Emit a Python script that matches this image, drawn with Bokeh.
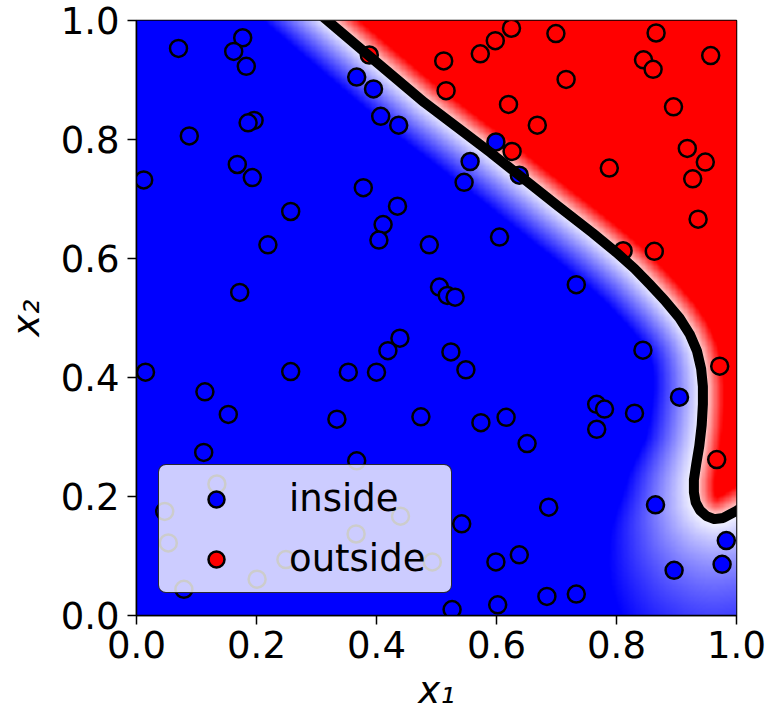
import numpy as np
from bokeh.plotting import figure
from bokeh.models import Range1d, LinearColorMapper, FixedTicker, Legend, LegendItem
from bokeh.embed import file_html
from bokeh.resources import INLINE

# ---- data ----
inside_x = [0.070, 0.177, 0.162, 0.183, 0.367, 0.395, 0.407, 0.437, 0.196, 0.186, 0.088, 0.012,
            0.168, 0.193, 0.378, 0.435, 0.257, 0.599, 0.556, 0.546, 0.638, 0.605, 0.488, 0.733,
            0.505, 0.518, 0.531, 0.524, 0.549, 0.844, 0.905, 0.767, 0.780, 0.830, 0.616, 0.574,
            0.411, 0.404, 0.219, 0.172, 0.439, 0.419, 0.015, 0.257, 0.353, 0.400, 0.114, 0.153,
            0.334, 0.474, 0.112, 0.367, 0.134, 0.047, 0.053, 0.079, 0.201, 0.249, 0.366, 0.440,
            0.493, 0.767, 0.651, 0.865, 0.687, 0.542, 0.983, 0.976, 0.896, 0.599, 0.638, 0.684,
            0.733, 0.602, 0.526]
inside_y = [0.953, 0.971, 0.948, 0.923, 0.905, 0.885, 0.839, 0.824, 0.832, 0.828, 0.806, 0.732,
            0.758, 0.736, 0.719, 0.688, 0.679, 0.796, 0.763, 0.728, 0.740, 0.636, 0.623, 0.556,
            0.552, 0.538, 0.535, 0.443, 0.413, 0.446, 0.367, 0.355, 0.347, 0.340, 0.333, 0.324,
            0.657, 0.631, 0.623, 0.543, 0.466, 0.445, 0.409, 0.410, 0.409, 0.409, 0.376, 0.338,
            0.330, 0.334, 0.274, 0.260, 0.221, 0.175, 0.122, 0.044, 0.061, 0.094, 0.137, 0.167,
            0.090, 0.313, 0.289, 0.186, 0.182, 0.154, 0.126, 0.086, 0.076, 0.090, 0.102, 0.032,
            0.036, 0.018, 0.010]
outside_x = [0.388, 0.625, 0.699, 0.866, 0.598, 0.573, 0.512, 0.957, 0.845, 0.861, 0.716, 0.516,
             0.620, 0.895, 0.668, 0.918, 0.948, 0.927, 0.788, 0.626, 0.936, 0.811, 0.863, 0.972,
             0.967]
outside_y = [0.942, 0.987, 0.978, 0.979, 0.966, 0.944, 0.932, 0.941, 0.934, 0.918, 0.901, 0.882,
             0.859, 0.855, 0.824, 0.785, 0.762, 0.734, 0.752, 0.780, 0.666, 0.613, 0.612, 0.419,
             0.262]

# decision boundary (probability 0.5 contour)
boundary_x = [0.26, 0.318, 0.40, 0.48, 0.59, 0.70, 0.76, 0.80, 0.83, 0.855, 0.88, 0.905, 0.922,
              0.934, 0.941, 0.944, 0.944, 0.942, 0.938, 0.933, 0.929, 0.929, 0.932, 0.939, 0.950,
              0.963, 0.978, 1.0, 1.05]
boundary_y = [1.05, 1.0, 0.93, 0.862, 0.778, 0.69, 0.643, 0.61, 0.583, 0.557, 0.53, 0.50, 0.473,
              0.445, 0.415, 0.385, 0.355, 0.32, 0.285, 0.255, 0.228, 0.207, 0.19, 0.177, 0.167,
              0.162, 0.164, 0.176, 0.21]

# how quickly the predicted probability saturates away from the boundary
blue_width_y = [0.0, 0.1, 0.2, 0.3, 0.45, 1.0]
blue_width = [0.22, 0.17, 0.12, 0.09, 0.075, 0.07]
red_width = 0.035

tick_values = [0.0, 0.2, 0.4, 0.6, 0.8, 1.0]
tick_labels = ["0.0", "0.2", "0.4", "0.6", "0.8", "1.0"]

# ---- probability field derived from the boundary ----
N = 500
g = (np.arange(N) + 0.5) / N
X, Y = np.meshgrid(g, g)
bx = np.array(boundary_x)
by = np.array(boundary_y)
dist = np.full(X.shape, np.inf)
for i in range(len(bx) - 1):
    ax_, ay_ = bx[i], by[i]
    vx, vy = bx[i + 1] - ax_, by[i + 1] - ay_
    t = np.clip(((X - ax_) * vx + (Y - ay_) * vy) / (vx * vx + vy * vy), 0, 1)
    dist = np.minimum(dist, np.hypot(X - ax_ - t * vx, Y - ay_ - t * vy))

px = list(boundary_x) + [1.05]
py = list(boundary_y) + [1.05]
red = np.zeros(X.shape, bool)
j = len(px) - 1
for i in range(len(px)):
    xi, yi, xj, yj = px[i], py[i], px[j], py[j]
    cond = ((yi > Y) != (yj > Y)) & (X < (xj - xi) * (Y - yi) / (yj - yi + 1e-12) + xi)
    red ^= cond
    j = i

wb = np.interp(Y, blue_width_y, blue_width)
prob = np.where(red, 0.5 + 0.5 * np.clip(dist / red_width, 0, 1),
                0.5 - 0.5 * np.clip(dist / wb, 0, 1)).astype(np.float32)

bwr = []
for i in range(256):
    t = i / 255
    if t < 0.5:
        r = gg = 2 * t
        b = 1.0
    else:
        r = 1.0
        gg = b = 2 * (1 - t)
    bwr.append("#%02x%02x%02x" % (round(r * 255), round(gg * 255), round(b * 255)))

# ---- figure ----
p = figure(width=769, height=719, x_range=Range1d(0, 1), y_range=Range1d(0, 1),
           output_backend="svg", toolbar_location=None,
           min_border_left=136, min_border_right=33, min_border_top=20, min_border_bottom=104)
p.background_fill_color = "white"
p.border_fill_color = "white"

mapper = LinearColorMapper(palette=bwr, low=0, high=1)
p.image(image=[prob], x=0, y=0, dw=1, dh=1, color_mapper=mapper)

r_in = p.scatter(inside_x, inside_y, size=17, fill_color="blue", line_color="black", line_width=2.5)
r_out = p.scatter(outside_x, outside_y, size=17, fill_color="red", line_color="black", line_width=2.5)

p.line(boundary_x, boundary_y, line_color="black", line_width=10, line_join="round", line_cap="round")

legend = Legend(items=[LegendItem(label="inside", renderers=[r_in]),
                       LegendItem(label="outside", renderers=[r_out])],
                location=(22, 22))
legend.label_text_font = "DejaVu Sans"
legend.label_text_font_size = "37px"
legend.label_text_color = "black"
legend.padding = 12
legend.spacing = 17
legend.glyph_width = 90
legend.glyph_height = 40
legend.label_height = 40
legend.label_standoff = 28
legend.label_width = 150
legend.background_fill_color = "white"
legend.background_fill_alpha = 0.8
legend.border_line_color = "black"
legend.border_line_alpha = 0.8
legend.border_line_width = 1.5
legend.margin = 0
try:
    legend.border_radius = 8
except Exception:
    pass
p.add_layout(legend)

p.xaxis.axis_label = "x\u2081"
p.yaxis.axis_label = "x\u2082"
for axis in (p.xaxis[0], p.yaxis[0]):
    axis.ticker = FixedTicker(ticks=tick_values)
    axis.major_label_overrides = {v: l for v, l in zip(tick_values, tick_labels)}
    axis.major_label_text_font = "DejaVu Sans"
    axis.major_label_text_font_size = "37px"
    axis.major_label_text_color = "black"
    axis.axis_label_text_font = "DejaVu Sans"
    axis.axis_label_text_font_size = "37px"
    axis.axis_label_text_font_style = "italic"
    axis.axis_label_text_color = "black"
    axis.major_tick_out = 9
    axis.major_tick_in = 0
    axis.minor_tick_line_color = None
    axis.axis_line_color = "black"
    axis.axis_line_width = 1.5
    axis.major_tick_line_color = "black"
    axis.major_tick_line_width = 1.5
p.xaxis.major_label_standoff = 6
p.yaxis.major_label_standoff = 8
p.xaxis.axis_label_standoff = 8
p.yaxis.axis_label_standoff = 10
p.xgrid.visible = False
p.ygrid.visible = False
p.outline_line_color = "black"
p.outline_line_width = 1.5
p.outline_line_alpha = 1

open("out.html", "w").write(file_html(p, INLINE))
